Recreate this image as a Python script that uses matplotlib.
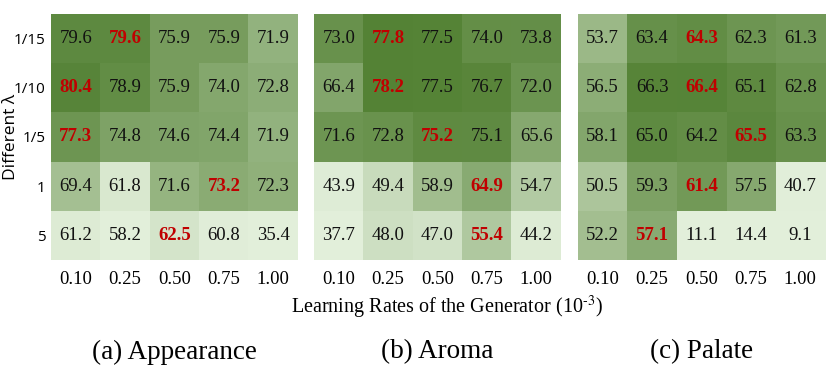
import numpy as np
import matplotlib
matplotlib.use("Agg")
import matplotlib.pyplot as plt
from matplotlib.colors import LinearSegmentedColormap, Normalize

# ---------------- data ----------------
lambdas = ["1/15", "1/10", "1/5", "1", "5"]
learning_rates = ["0.10", "0.25", "0.50", "0.75", "1.00"]
titles = ["(a) Appearance", "(b) Aroma", "(c) Palate"]

appearance = [
    [79.6, 79.6, 75.9, 75.9, 71.9],
    [80.4, 78.9, 75.9, 74.0, 72.8],
    [77.3, 74.8, 74.6, 74.4, 71.9],
    [69.4, 61.8, 71.6, 73.2, 72.3],
    [61.2, 58.2, 62.5, 60.8, 35.4],
]
aroma = [
    [73.0, 77.8, 77.5, 74.0, 73.8],
    [66.4, 78.2, 77.5, 76.7, 72.0],
    [71.6, 72.8, 75.2, 75.1, 65.6],
    [43.9, 49.4, 58.9, 64.9, 54.7],
    [37.7, 48.0, 47.0, 55.4, 44.2],
]
palate = [
    [53.7, 63.4, 64.3, 62.3, 61.3],
    [56.5, 66.3, 66.4, 65.1, 62.8],
    [58.1, 65.0, 64.2, 65.5, 63.3],
    [50.5, 59.3, 61.4, 57.5, 40.7],
    [52.2, 57.1, 11.1, 14.4, 9.1],
]
# best cell (column index) in each row, shown in bold red
best_appearance = [1, 0, 0, 3, 2]
best_aroma = [1, 1, 2, 3, 3]
best_palate = [2, 2, 3, 2, 1]

# colour range used for each panel
ranges = [(60.5, 81.0), (43.0, 78.0), (40.5, 67.0)]

# ---------------- plot ----------------
plt.rcParams["mathtext.fontset"] = "stix"
cmap = LinearSegmentedColormap.from_list("xl_green", ["#e2efda", "#548235"])
serif = ["Liberation Serif", "DejaVu Serif"]
sans = ["Open Sans", "DejaVu Sans"]

W, H = 827, 369
fig = plt.figure(figsize=(W / 100, H / 100), dpi=100)

panels = [appearance, aroma, palate]
bests = [best_appearance, best_aroma, best_palate]
lefts = [51, 314, 578]
pw = 247
top, bottom = 14, 260

for k, (data, best, (vmin, vmax)) in enumerate(zip(panels, bests, ranges)):
    arr = np.array(data)
    ax = fig.add_axes([lefts[k] / W, 1 - bottom / H, pw / W, (bottom - top) / H])
    ax.imshow(arr, cmap=cmap, norm=Normalize(vmin=vmin, vmax=vmax, clip=True),
              aspect="auto", interpolation="nearest")
    for i in range(arr.shape[0]):
        for j in range(arr.shape[1]):
            if best[i] == j:
                ax.text(j, i, f"{arr[i, j]:.1f}", ha="center", va="center",
                        fontsize=13.5, color="#c00000", fontweight="bold",
                        family=serif)
            else:
                ax.text(j, i, f"{arr[i, j]:.1f}", ha="center", va="center",
                        fontsize=13.5, color="#111111", family=serif)
    ax.set_xticks(range(len(learning_rates)))
    ax.set_xticklabels(learning_rates, family=serif, fontsize=13.5)
    ax.tick_params(length=0, pad=8)
    if k == 0:
        ax.set_yticks(range(len(lambdas)))
        ax.set_yticklabels(lambdas, family=sans, fontsize=11)
        ax.tick_params(axis="y", pad=4)
    else:
        ax.set_yticks([])
    for s in ax.spines.values():
        s.set_visible(False)
    fig.text((lefts[k] + pw / 2) / W, 1 - 352 / H, titles[k], ha="center",
             va="center", family=serif, fontsize=19.5)

fig.text(11 / W, 1 - 137 / H, "Different λ", rotation=90, ha="center",
         va="center", family=sans, fontsize=12.5)

fig.text(447 / W, 1 - 307 / H, "Learning Rates of the Generator (10$^{\\text{-3}}$)",
         ha="center", va="center", family=serif, fontsize=14.5)

fig.savefig("out.png", dpi=100)
